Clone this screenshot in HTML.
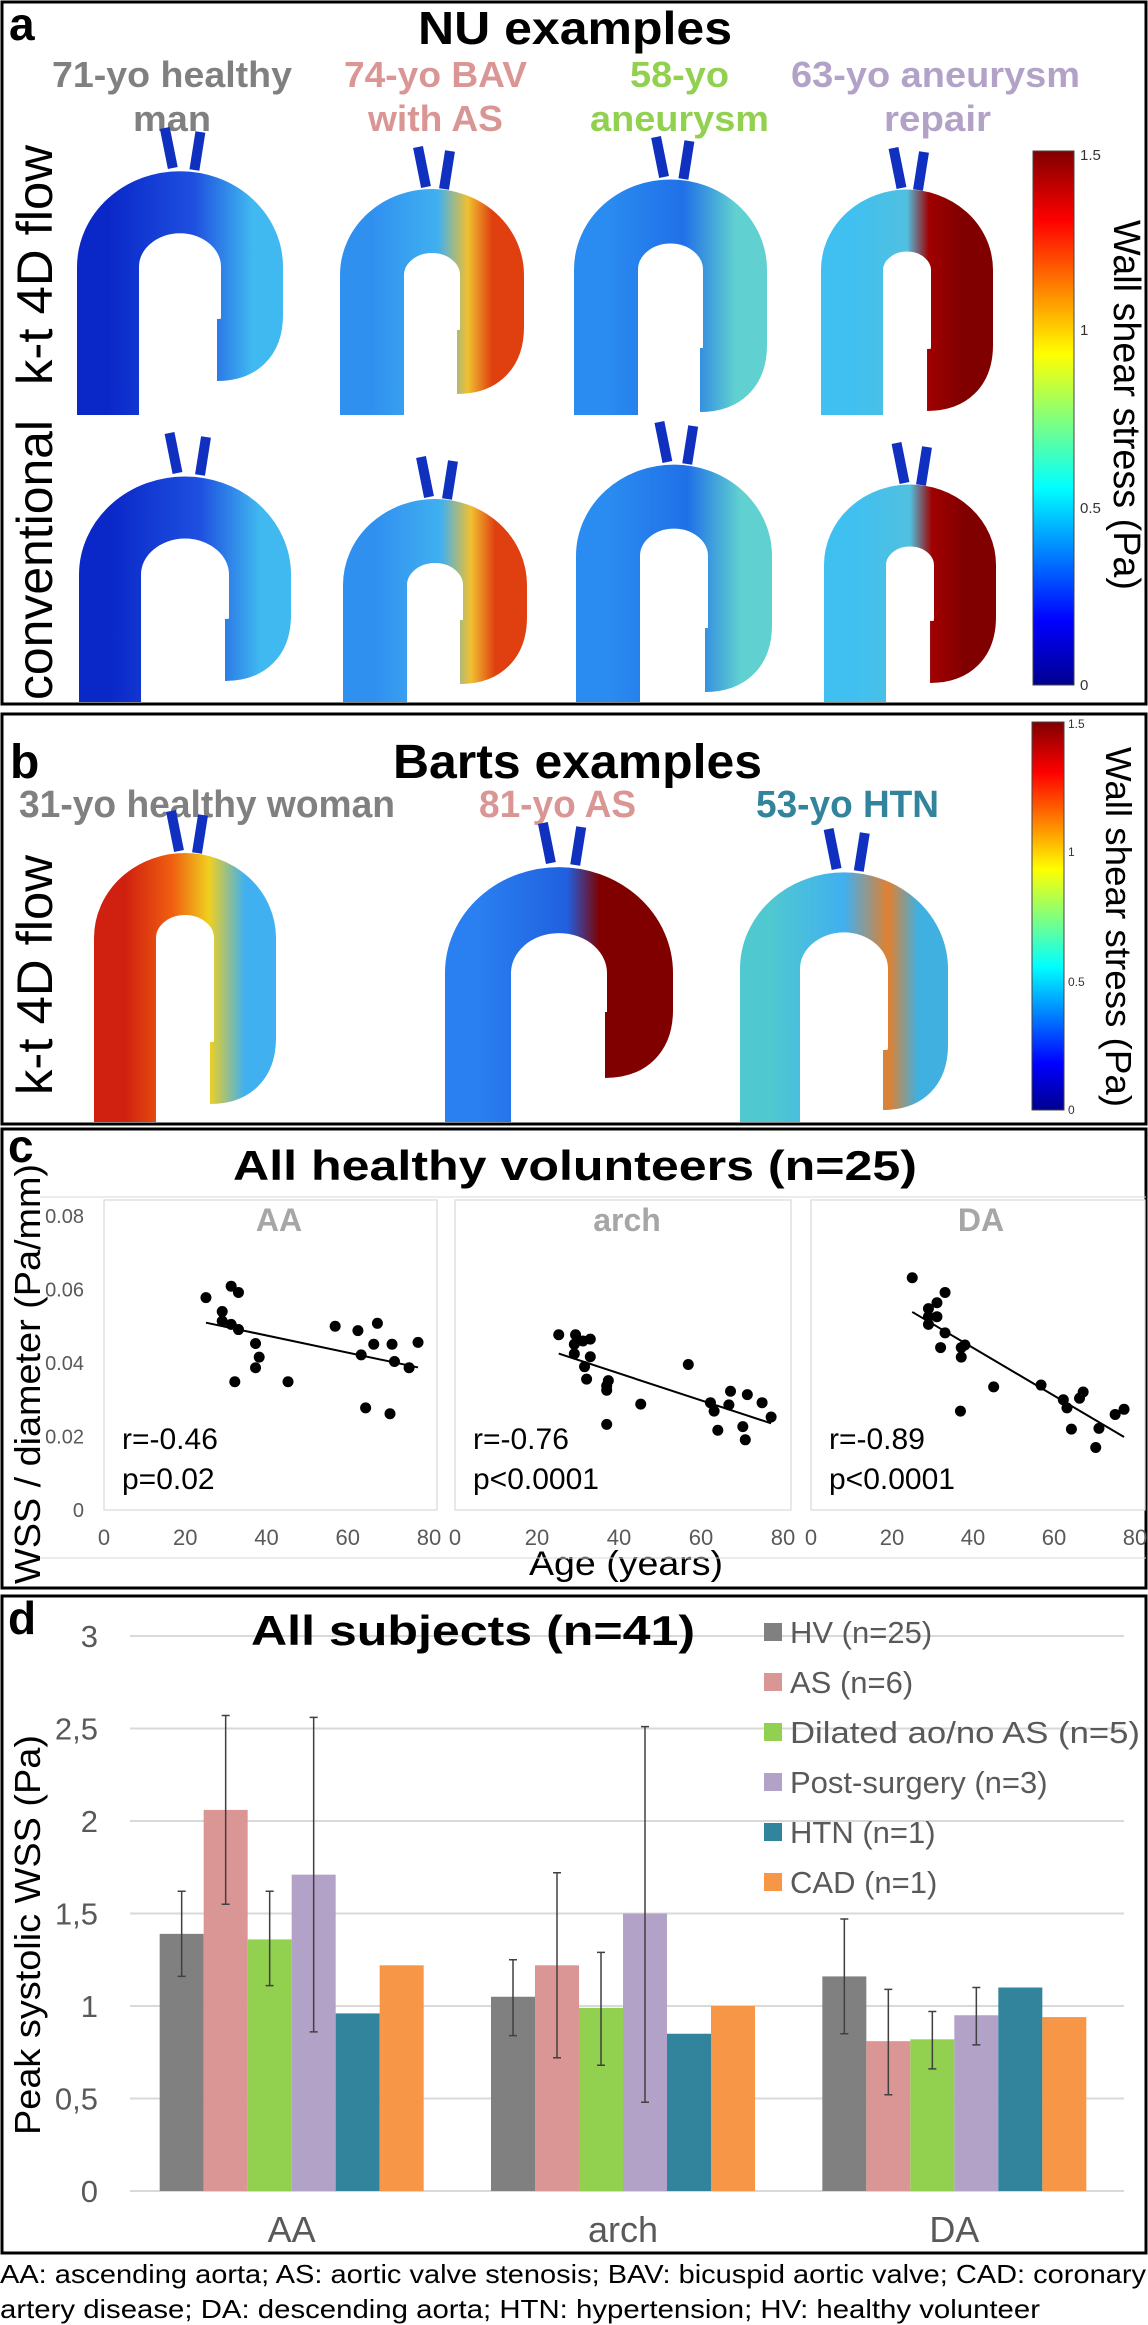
<!DOCTYPE html>
<html><head><meta charset="utf-8">
<style>
html,body{margin:0;padding:0;background:#fff;}
svg{display:block;font-family:"Liberation Sans",Arial,sans-serif;}
</style></head>
<body>
<svg id="fig" width="1148" height="2325" viewBox="0 0 1148 2325" xmlns="http://www.w3.org/2000/svg">
<defs>
  <linearGradient id="jet" x1="0" y1="1" x2="0" y2="0">
    <stop offset="0" stop-color="#00008f"/>
    <stop offset="0.12" stop-color="#0000ff"/>
    <stop offset="0.37" stop-color="#00ffff"/>
    <stop offset="0.62" stop-color="#ffff00"/>
    <stop offset="0.87" stop-color="#ff0000"/>
    <stop offset="1" stop-color="#800000"/>
  </linearGradient>
  <linearGradient id="gDark" x1="0" y1="0" x2="1" y2="0"><stop offset="0" stop-color="#0a28c8"/><stop offset="0.6" stop-color="#1e50e0"/><stop offset="1" stop-color="#40b8f0"/></linearGradient>
  <linearGradient id="gBAV" x1="0" y1="0" x2="1" y2="0"><stop offset="0" stop-color="#3090f0"/><stop offset="0.55" stop-color="#40b0f0"/><stop offset="0.8" stop-color="#f0c030"/><stop offset="1" stop-color="#e04010"/></linearGradient>
  <linearGradient id="gAn" x1="0" y1="0" x2="1" y2="0"><stop offset="0" stop-color="#2a8cf0"/><stop offset="0.6" stop-color="#2070e8"/><stop offset="1" stop-color="#60d0d0"/></linearGradient>
  <linearGradient id="gRep" x1="0" y1="0" x2="1" y2="0"><stop offset="0" stop-color="#40c0f0"/><stop offset="0.5" stop-color="#50c0e0"/><stop offset="0.7" stop-color="#a00000"/><stop offset="1" stop-color="#800000"/></linearGradient>
  <linearGradient id="gHot" x1="0" y1="0" x2="1" y2="0"><stop offset="0" stop-color="#d02010"/><stop offset="0.4" stop-color="#f06010"/><stop offset="0.7" stop-color="#f0d020"/><stop offset="1" stop-color="#40b0f0"/></linearGradient>
  <linearGradient id="gAS" x1="0" y1="0" x2="1" y2="0"><stop offset="0" stop-color="#2a80f0"/><stop offset="0.55" stop-color="#2060e0"/><stop offset="0.75" stop-color="#800000"/><stop offset="1" stop-color="#800000"/></linearGradient>
  <linearGradient id="gHTN" x1="0" y1="0" x2="1" y2="0"><stop offset="0" stop-color="#50c8d0"/><stop offset="0.5" stop-color="#40b0f0"/><stop offset="0.8" stop-color="#e08030"/><stop offset="1" stop-color="#40b0e0"/></linearGradient>
</defs>

<!-- panel boxes -->
<rect x="2" y="2" width="1144" height="702" fill="none" stroke="#000" stroke-width="3"/>
<rect x="2" y="714" width="1144" height="410" fill="none" stroke="#000" stroke-width="3"/>
<rect x="2" y="1129" width="1144" height="459" fill="none" stroke="#000" stroke-width="3"/>
<rect x="2" y="1596" width="1144" height="657" fill="none" stroke="#000" stroke-width="3"/>

<!-- Panel a -->
<g>
  <text x="9" y="40" font-size="46" font-weight="bold">a</text>
  <text x="418" y="44" font-size="46" font-weight="bold" textLength="314" lengthAdjust="spacingAndGlyphs">NU examples</text>
  <g font-size="36" font-weight="bold" lengthAdjust="spacingAndGlyphs">
    <text x="52" y="87" textLength="240" lengthAdjust="spacingAndGlyphs" fill="#808080">71-yo healthy</text>
    <text x="133" y="131" textLength="78" lengthAdjust="spacingAndGlyphs" fill="#808080">man</text>
    <text x="344" y="87" textLength="183" lengthAdjust="spacingAndGlyphs" fill="#d99694">74-yo BAV</text>
    <text x="368" y="131" textLength="135" lengthAdjust="spacingAndGlyphs" fill="#d99694">with AS</text>
    <text x="630" y="87" textLength="99" lengthAdjust="spacingAndGlyphs" fill="#92d050">58-yo</text>
    <text x="590" y="131" textLength="179" lengthAdjust="spacingAndGlyphs" fill="#92d050">aneurysm</text>
    <text x="791" y="87" textLength="289" lengthAdjust="spacingAndGlyphs" fill="#b3a2c7">63-yo aneurysm</text>
    <text x="884" y="131" textLength="107" lengthAdjust="spacingAndGlyphs" fill="#b3a2c7">repair</text>
  </g>
  <text transform="translate(52,265) rotate(-90)" text-anchor="middle" font-size="50" textLength="240" lengthAdjust="spacingAndGlyphs">k-t 4D flow</text>
  <text transform="translate(52,560) rotate(-90)" text-anchor="middle" font-size="50" textLength="280" lengthAdjust="spacingAndGlyphs">conventional</text>
  <g id="aortaA"></g>
  <rect x="1033" y="151" width="41" height="534" fill="url(#jet)" stroke="#444" stroke-width="1"/>
  <g font-size="15" fill="#333">
    <text x="1080" y="160">1.5</text>
    <text x="1080" y="335">1</text>
    <text x="1080" y="513">0.5</text>
    <text x="1080" y="690">0</text>
  </g>
  <text transform="translate(1114,405) rotate(90)" text-anchor="middle" font-size="38" textLength="370" lengthAdjust="spacingAndGlyphs">Wall shear stress (Pa)</text>
</g>

<!-- Panel b -->
<g>
  <text x="10" y="778" font-size="48" font-weight="bold">b</text>
  <text x="393" y="778" font-size="48" font-weight="bold" textLength="369" lengthAdjust="spacingAndGlyphs">Barts examples</text>
  <text x="19" y="817" font-size="38" font-weight="bold" textLength="376" lengthAdjust="spacingAndGlyphs" fill="#808080">31-yo healthy woman</text>
  <text x="479" y="817" font-size="38" font-weight="bold" textLength="157" lengthAdjust="spacingAndGlyphs" fill="#d99694">81-yo AS</text>
  <text x="756" y="817" font-size="38" font-weight="bold" textLength="183" lengthAdjust="spacingAndGlyphs" fill="#31849b">53-yo HTN</text>
  <text transform="translate(52,975) rotate(-90)" text-anchor="middle" font-size="50" textLength="240" lengthAdjust="spacingAndGlyphs">k-t 4D flow</text>
  <g id="aortaB"></g>
  <rect x="1032" y="722" width="32" height="388" fill="url(#jet)" stroke="#444" stroke-width="1"/>
  <g font-size="12" fill="#333">
    <text x="1068" y="728">1.5</text>
    <text x="1068" y="856">1</text>
    <text x="1068" y="986">0.5</text>
    <text x="1068" y="1114">0</text>
  </g>
  <text transform="translate(1106,927) rotate(90)" text-anchor="middle" font-size="36" textLength="360" lengthAdjust="spacingAndGlyphs">Wall shear stress (Pa)</text>
</g>

<!-- Panel c -->
<g id="panelC">
  <text x="8" y="1162" font-size="46" font-weight="bold">c</text>
  <text x="233" y="1180" font-size="42" font-weight="bold" textLength="684" lengthAdjust="spacingAndGlyphs">All healthy volunteers (n=25)</text>
  <text transform="translate(40,1374) rotate(-90)" text-anchor="middle" font-size="36" textLength="420" lengthAdjust="spacingAndGlyphs">WSS / diameter (Pa/mm)</text>
  <text x="626" y="1575" text-anchor="middle" font-size="34" textLength="194" lengthAdjust="spacingAndGlyphs">Age (years)</text>
</g>

<!-- Panel d -->
<g id="panelD">
  <text x="8" y="1634" font-size="46" font-weight="bold">d</text>
  <text transform="translate(40,1935) rotate(-90)" text-anchor="middle" font-size="36" textLength="400" lengthAdjust="spacingAndGlyphs">Peak systolic WSS (Pa)</text>
</g>

<!-- caption -->
<text x="0" y="2283" font-size="26" textLength="1146" lengthAdjust="spacingAndGlyphs">AA: ascending aorta; AS: aortic valve stenosis; BAV: bicuspid aortic valve; CAD: coronary</text>
<text x="0" y="2318" font-size="26" textLength="1040" lengthAdjust="spacingAndGlyphs">artery disease; DA: descending aorta; HTN: hypertension; HV: healthy volunteer</text>
</svg>

<script>
// ---------- Panel c data ----------
const scatterPanels = ["AA", "arch", "DA"];
const ageAA = [25.1,29.1,29.1,31.3,33.1,31.3,33.1,37.3,38.2,37.3,32.2,45.3,56.9,62.5,67.3,66.4,70.9,77.3,63.3,71.5,75.1,64.4,70.4];
const wssAA = [0.0578,0.054,0.0514,0.0609,0.0592,0.0505,0.0491,0.0453,0.0416,0.0387,0.0349,0.0349,0.05,0.0488,0.0508,0.0451,0.0451,0.0456,0.0422,0.0404,0.0387,0.0278,0.0262];
const ageArch = [25.3,29.4,29.1,31.2,33.0,29.1,33.0,31.6,32.1,37.0,37.4,37.0,37.0,45.3,56.9,62.3,63.2,66.8,67.2,71.3,74.9,77.1,64.1,70.2,70.8];
const wssArch = [0.0477,0.0477,0.0451,0.046,0.0465,0.0425,0.0417,0.039,0.0356,0.0338,0.0352,0.0326,0.0233,0.0288,0.0396,0.0292,0.0269,0.0286,0.0323,0.0314,0.0292,0.0253,0.0217,0.0227,0.0191];
const ageDA = [25.0,29.0,31.1,33.1,29.0,29.0,31.1,33.1,32.0,37.1,37.1,38.0,36.9,45.1,56.8,62.3,63.2,66.3,67.2,64.3,71.1,70.3,75.1,77.3];
const wssDA = [0.0632,0.0548,0.0564,0.0592,0.0526,0.0505,0.0526,0.0482,0.0442,0.0442,0.0416,0.0449,0.0269,0.0335,0.034,0.03,0.0278,0.0304,0.0321,0.022,0.0222,0.017,0.026,0.0274];
const rLabels = ["r=-0.46","r=-0.76","r=-0.89"];
const pLabels = ["p=0.02","p<0.0001","p<0.0001"];
const xTicksC = [0,20,40,60,80];
const yTicksC = [0,0.02,0.04,0.06,0.08];

// ---------- Panel d data ----------
const regions = ["AA","arch","DA"];
const groups = ["HV (n=25)","AS (n=6)","Dilated ao/no AS (n=5)","Post-surgery (n=3)","HTN (n=1)","CAD (n=1)"];
const groupColors = ["#808080","#d99694","#92d050","#b3a2c7","#31849b","#f79646"];
const valHV   = [1.39,1.05,1.16];
const valAS   = [2.06,1.22,0.81];
const valDil  = [1.36,0.99,0.82];
const valPost = [1.71,1.50,0.95];
const valHTN  = [0.96,0.85,1.10];
const valCAD  = [1.22,1.00,0.94];
const errLoHV = [1.16,0.84,0.85], errHiHV = [1.62,1.25,1.47];
const errLoAS = [1.55,0.72,0.52], errHiAS = [2.57,1.72,1.09];
const errLoDil = [1.11,0.68,0.66], errHiDil = [1.62,1.29,0.97];
const errLoPost = [0.86,0.48,0.79], errHiPost = [2.56,2.51,1.10];
const yTicksD = [0,0.5,1,1.5,2,2.5,3];
const yTickLabelsD = ["0","0,5","1","1,5","2","2,5","3"];

const NS = "http://www.w3.org/2000/svg";
function mk(tag, attrs, parent){ const e=document.createElementNS(NS,tag); for(const k in attrs) e.setAttribute(k,attrs[k]); parent.appendChild(e); return e; }

// ---------- aortas (illustrative shapes) ----------
function aorta(parent, x0, x1, yTop, yL, yR, w, grad, name){
  const r=(x1-x0)/2;
  const d=`M ${x0} ${yL} L ${x0} ${yTop+r} A ${r} ${r*0.9} 0 0 1 ${x1} ${yTop+r} L ${x1} ${yR-35} Q ${x1} ${yR} ${x1-35} ${yR}`;
  const p=mk("path",{d:d,fill:"none",stroke:"url(#"+grad+")","stroke-width":w,"stroke-linejoin":"round"},parent);
  
  
  // branches
  const b=mk("path",{d:`M ${x0+r*0.9} ${yTop-w/2+4} l -8 -40 M ${x0+r*1.2} ${yTop-w/2+6} l 6 -38`,stroke:"#1030c0","stroke-width":10,fill:"none"},parent);
  
  
}
const gA=document.getElementById("aortaA");
aorta(gA,108,252,195,415,350,62,"gDark","aorta-a1-kt");
aorta(gA,372,492,215,415,362,64,"gBAV","aorta-a2-kt");
aorta(gA,606,735,205,415,380,64,"gAn","aorta-a3-kt");
aorta(gA,852,962,215,415,380,62,"gRep","aorta-a4-kt");
aorta(gA,110,260,500,702,650,62,"gDark","aorta-a1-conv");
aorta(gA,375,495,525,702,652,64,"gBAV","aorta-a2-conv");
aorta(gA,608,740,490,702,660,64,"gAn","aorta-a3-conv");
aorta(gA,855,965,510,702,652,62,"gRep","aorta-a4-conv");
const gB=document.getElementById("aortaB");
aorta(gB,125,245,878,1122,1073,62,"gHot","aorta-b1");
aorta(gB,478,640,892,1122,1045,66,"gAS","aorta-b2");
aorta(gB,770,918,895,1122,1080,60,"gHTN","aorta-b3");

// ---------- Panel c ----------
const gC=document.getElementById("panelC");
const plotX0=[104,455,811], plotX1=[429,783,1135];
const cY0=1510, cY1=1216;
const ages=[ageAA,ageArch,ageDA], wss=[wssAA,wssArch,wssDA];
const titleX=[279,627,981];
function yC(v){ return cY0 + (v/0.08)*(cY1-cY0); }
mk("line",{x1:40,y1:1197,x2:1146,y2:1197,stroke:"#d9d9d9","stroke-width":1},gC);
mk("line",{x1:40,y1:1558,x2:1146,y2:1558,stroke:"#d9d9d9","stroke-width":1},gC);
yTicksC.forEach(t=>{
  const e=mk("text",{x:84,y:yC(t)+7,"text-anchor":"end","font-size":20,fill:"#595959"},gC);
  e.textContent = t===0?"0":t.toFixed(2);
  
  
});
for(let i=0;i<3;i++){
  const xs=v=>plotX0[i]+(v/80)*(plotX1[i]-plotX0[i]);
  const f=mk("rect",{x:plotX0[i],y:1200,width:plotX1[i]-plotX0[i]+(i<2?8:10),height:cY0-1200,fill:"none",stroke:"#d9d9d9","stroke-width":1.2},gC);
  
  
  const tt=mk("text",{x:titleX[i],y:1231,"text-anchor":"middle","font-size":32,"font-weight":"bold",fill:"#a6a6a6"},gC);
  tt.textContent=scatterPanels[i];
  
  
  xTicksC.forEach(t=>{
    const e=mk("text",{x:xs(t),y:1545,"text-anchor":"middle","font-size":22,fill:"#595959"},gC);
    e.textContent=t;
    
    
  });
  // regression line
  const a=ages[i], w=wss[i], n=a.length;
  let mx=0,my=0; for(let k=0;k<n;k++){mx+=a[k];my+=w[k];} mx/=n; my/=n;
  let sxy=0,sxx=0; for(let k=0;k<n;k++){sxy+=(a[k]-mx)*(w[k]-my); sxx+=(a[k]-mx)**2;}
  const sl=sxy/sxx, ic=my-sl*mx;
  const amin=Math.min(...a), amax=Math.max(...a);
  const ln=mk("line",{x1:xs(amin),y1:yC(ic+sl*amin),x2:xs(amax),y2:yC(ic+sl*amax),stroke:"#000","stroke-width":2},gC);
  
  
  for(let k=0;k<n;k++){
    const c=mk("circle",{cx:xs(a[k]),cy:yC(w[k]),r:5.5,fill:"#000"},gC);
    
    
  }
  const rt=mk("text",{x:plotX0[i]+18,y:1449,"font-size":30},gC); rt.textContent=rLabels[i];
  
  
  const pt=mk("text",{x:plotX0[i]+18,y:1489,"font-size":30},gC); pt.textContent=pLabels[i];
  
  
}

// ---------- Panel d ----------
const gD=document.getElementById("panelD");
const dY0=2191, unit=185;
function yD(v){ return dY0 - v*unit; }
const plotL=130, plotR=1124;
yTicksD.forEach((t,i)=>{
  const gl=mk("line",{x1:plotL,y1:yD(t),x2:plotR,y2:yD(t),stroke:"#d9d9d9","stroke-width":2},gD);
  
  
  const e=mk("text",{x:98,y:yD(t)+11,"text-anchor":"end","font-size":31,fill:"#595959"},gD);
  e.textContent=yTickLabelsD[i];
  
  
});
const vals=[valHV,valAS,valDil,valPost,valHTN,valCAD];
const lo=[errLoHV,errLoAS,errLoDil,errLoPost,null,null];
const hi=[errHiHV,errHiAS,errHiDil,errHiPost,null,null];
const band=(plotR-plotL)/regions.length, bw=44;
regions.forEach((rg,ri)=>{
  const cx=plotL+band*(ri+0.5)-4;
  const lab=mk("text",{x:cx,y:2242,"text-anchor":"middle","font-size":36,fill:"#595959"},gD);
  lab.textContent=rg;
  
  
  groups.forEach((g,gi)=>{
    const x=cx-3*bw+gi*bw;
    const v=vals[gi][ri];
    const r=mk("rect",{x:x,y:yD(v),width:bw,height:yD(0)-yD(v),fill:groupColors[gi]},gD);
    
    
  });
  groups.forEach((g,gi)=>{
    if(!lo[gi]) return;
    const x=cx-3*bw+gi*bw+bw/2;
    const y1=yD(lo[gi][ri]), y2=yD(hi[gi][ri]);
    const eb=mk("path",{d:`M ${x} ${y1} L ${x} ${y2} M ${x-4} ${y1} L ${x+4} ${y1} M ${x-4} ${y2} L ${x+4} ${y2}`,stroke:"#404040","stroke-width":1.5,fill:"none"},gD);
    
    
  });
});
const tD=mk("text",{x:251,y:1645,"font-size":42,"font-weight":"bold",textLength:444,lengthAdjust:"spacingAndGlyphs"},gD);
tD.textContent="All subjects (n=41)";


groups.forEach((g,gi)=>{
  const y=1632+gi*50;
  const s=mk("rect",{x:764,y:y-9,width:18,height:18,fill:groupColors[gi]},gD);
  
  
  const t=mk("text",{x:790,y:y+11,"font-size":31,fill:"#595959"},gD);
  t.textContent=g;
  if(gi===2){ t.setAttribute("textLength",350); t.setAttribute("lengthAdjust","spacingAndGlyphs"); }
  
  
});
</script>
</body></html>
